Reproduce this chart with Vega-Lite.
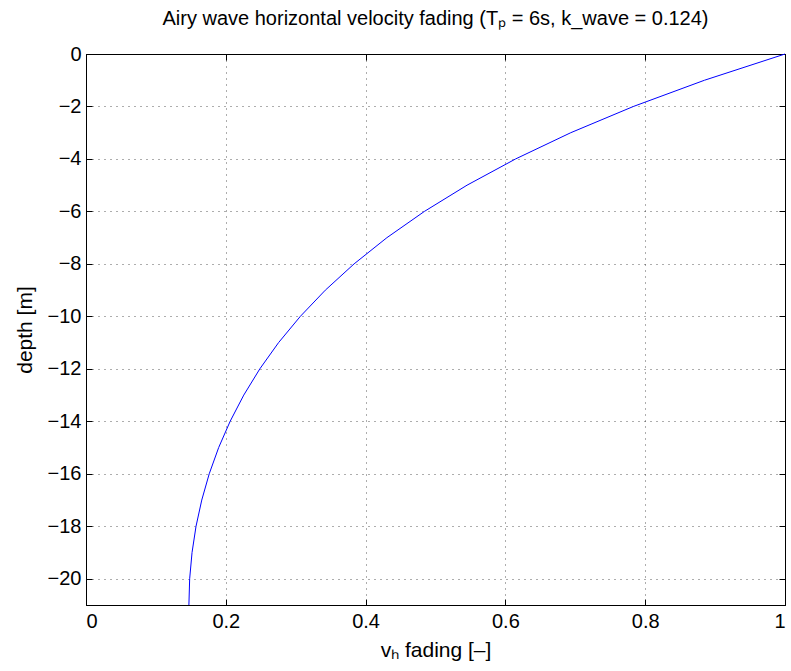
{
  "$schema": "https://vega.github.io/schema/vega-lite/v6.json",
  "width": 699,
  "height": 551,
  "autosize": {"type": "none"},
  "padding": {"left": 86, "top": 54, "right": 6, "bottom": 66},
  "background": "white",
  "title": {
    "text": "Airy wave horizontal velocity fading (Tₚ = 6s, k_wave = 0.124)",
    "font": "Liberation Sans",
    "fontSize": 20,
    "fontWeight": "normal",
    "color": "black",
    "offset": 15
  },
  "config": {
    "view": {"stroke": "black", "strokeWidth": 1},
    "axis": {
      "labelFont": "Liberation Sans",
      "titleFont": "Liberation Sans",
      "labelFontSize": 20,
      "titleFontSize": 21,
      "titleFontWeight": "normal",
      "labelColor": "black",
      "titleColor": "black",
      "domainColor": "black",
      "tickColor": "black",
      "gridColor": "#333333",
      "gridDash": [1, 5],
      "gridOpacity": 0.8,
      "tickSize": -6
    }
  },
  "data": {
    "values": [
      {"depth": 0, "v": 1.0},
      {"depth": -1, "v": 0.8848},
      {"depth": -2, "v": 0.7831},
      {"depth": -3, "v": 0.6935},
      {"depth": -4, "v": 0.6146},
      {"depth": -5, "v": 0.5451},
      {"depth": -6, "v": 0.4841},
      {"depth": -7, "v": 0.4305},
      {"depth": -8, "v": 0.3835},
      {"depth": -9, "v": 0.3424},
      {"depth": -10, "v": 0.3066},
      {"depth": -11, "v": 0.2755},
      {"depth": -12, "v": 0.2487},
      {"depth": -13, "v": 0.2257},
      {"depth": -14, "v": 0.2062},
      {"depth": -15, "v": 0.1898},
      {"depth": -16, "v": 0.1763},
      {"depth": -17, "v": 0.1656},
      {"depth": -18, "v": 0.1574},
      {"depth": -19, "v": 0.1517},
      {"depth": -20, "v": 0.1483},
      {"depth": -21, "v": 0.1472}
    ]
  },
  "layer": [
    {
      "mark": {"type": "line", "color": "#0000ff", "strokeWidth": 1},
      "encoding": {
        "x": {
          "field": "v",
          "type": "quantitative",
          "scale": {"domain": [0, 1], "nice": false, "zero": false},
          "axis": {
            "values": [0, 0.2, 0.4, 0.6, 0.8, 1],
            "format": "~g",
            "title": "vₕ fading [–]",
            "labelPadding": 12,
            "titlePadding": 8
          }
        },
        "y": {
          "field": "depth",
          "type": "quantitative",
          "sort": null,
          "scale": {"domain": [-21, 0], "nice": false, "zero": false},
          "axis": {
            "values": [0, -2, -4, -6, -8, -10, -12, -14, -16, -18, -20],
            "title": "depth [m]",
            "labelPadding": 11,
            "titlePadding": 12
          }
        },
        "order": {"field": "depth", "type": "quantitative"}
      }
    },
    {
      "mark": {"type": "line", "opacity": 0},
      "encoding": {
        "x": {
          "field": "v",
          "type": "quantitative",
          "scale": {"domain": [0, 1], "nice": false, "zero": false},
          "axis": {
            "orient": "top",
            "values": [0, 0.2, 0.4, 0.6, 0.8, 1],
            "labels": false,
            "grid": false,
            "title": null
          }
        },
        "y": {
          "field": "depth",
          "type": "quantitative",
          "scale": {"domain": [-21, 0], "nice": false, "zero": false},
          "axis": {
            "orient": "right",
            "values": [0, -2, -4, -6, -8, -10, -12, -14, -16, -18, -20],
            "labels": false,
            "grid": false,
            "title": null
          }
        }
      }
    }
  ],
  "resolve": {"axis": {"x": "independent", "y": "independent"}}
}
